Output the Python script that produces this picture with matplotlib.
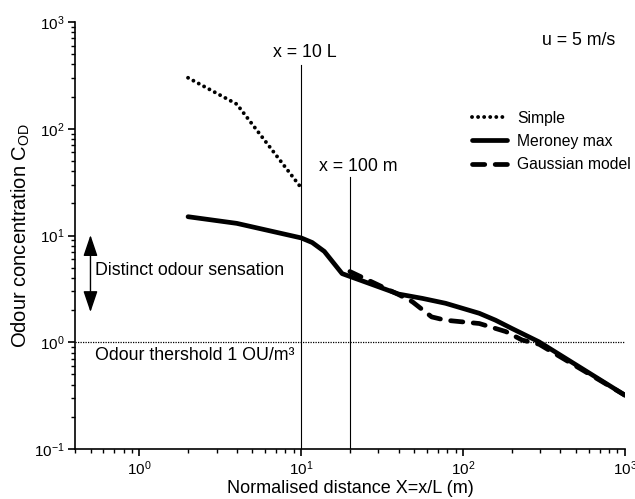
import matplotlib.pyplot as plt
import numpy as np

plt.rcParams['font.family'] = ['Liberation Sans', 'DejaVu Sans']
plt.rcParams['mathtext.fontset'] = 'custom'
plt.rcParams['mathtext.rm'] = 'Liberation Sans'

# data
simple_x = [2, 4, 10]
simple_y = [300, 170, 28]

meroney_x = [2, 4, 10, 11.7, 13.9, 17.9, 40, 56, 78, 126, 159, 200, 295, 1000]
meroney_y = [15, 13, 9.5, 8.6, 7.1, 4.4, 2.83, 2.58, 2.32, 1.87, 1.61, 1.35, 1.01, 0.32]

gauss_x = [20, 40, 48.6, 64, 78, 126, 184, 232, 295, 1000]
gauss_y = [4.6, 2.8, 2.4, 1.73, 1.61, 1.50, 1.26, 1.05, 0.96, 0.32]

fig = plt.figure(figsize=(6.35, 4.99), dpi=100)
ax = fig.add_axes([0.118, 0.1, 0.866, 0.856])

ax.plot(simple_x, simple_y, color='black', lw=2.8, linestyle=(0, (0.01, 1.55)),
        dash_capstyle='round', label='Simple')
ax.plot(meroney_x, meroney_y, color='black', lw=3.4, solid_capstyle='round',
        solid_joinstyle='round', label='Meroney max')
ax.plot(gauss_x, gauss_y, color='black', lw=3.4, linestyle=(0, (2.6, 2.2)),
        dash_capstyle='round', label='Gaussian model')

ax.set_xscale('log')
ax.set_yscale('log')
ax.set_xlim(0.4, 1000)
ax.set_ylim(0.1, 1000)

# reference lines
ax.plot([10, 10], [0.1, 395], color='black', lw=0.8)
ax.plot([20, 20], [0.1, 35], color='black', lw=0.8)
ax.axhline(1, color='black', lw=0.9, linestyle=(0, (1, 1)))

ax.text(6.72, 513, 'x = 10 L', va='center', fontsize=12.8)
ax.text(12.9, 44.2, 'x = 100 m', va='center', fontsize=12.8)
ax.text(307, 664, 'u = 5 m/s', va='center', fontsize=12.8)
ax.text(0.535, 0.76, 'Odour thershold 1 OU/m³', va='center', fontsize=12.8)
ax.text(0.535, 4.68, 'Distinct odour sensation', va='center', fontsize=12.8)
ax.annotate('', xy=(0.499, 1.92), xytext=(0.499, 10.1),
            arrowprops=dict(arrowstyle='<|-|>,head_length=0.65,head_width=0.22',
                            color='black', lw=1, mutation_scale=20,
                            shrinkA=0, shrinkB=0))

ax.set_xlabel('Normalised distance X=x/L (m)', fontsize=13, labelpad=1)
ax.set_ylabel('Odour concentration C$_{\\mathregular{OD}}$', fontsize=14.5)
ax.yaxis.set_label_coords(-0.078, 0.5)

ax.spines['top'].set_visible(False)
ax.spines['right'].set_visible(False)
ax.spines['left'].set_linewidth(1.2)
ax.spines['bottom'].set_linewidth(1.2)
ax.tick_params(which='major', direction='out', length=5, width=1.2, labelsize=11, pad=2.5)
ax.tick_params(which='minor', direction='out', length=3, width=1)

ax.legend(loc='upper left', bbox_to_anchor=(0.733, 0.791), bbox_transform=fig.transFigure,
          borderaxespad=0, frameon=False, fontsize=11.3, handlelength=2.23,
          labelspacing=0.53, handletextpad=0.64)

fig.savefig('out.png', dpi=100)
